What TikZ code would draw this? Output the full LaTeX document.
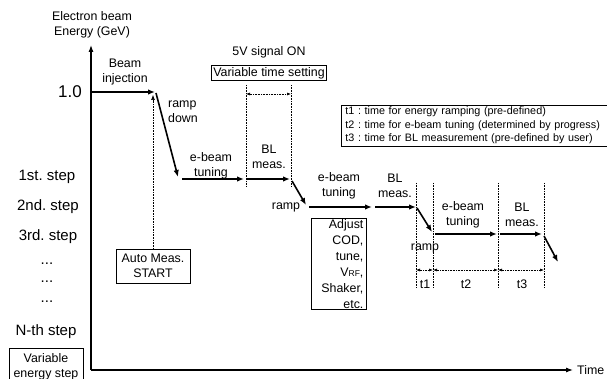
\documentclass[tikz,border=0pt]{standalone}
\usepackage{fontspec}
\setmainfont{Liberation Sans}
\usetikzlibrary{arrows.meta}
\frenchspacing

\begin{document}
\begin{tikzpicture}[
  x=1pt, y=-1pt,
  every node/.style={font=\fontsize{12.4}{15}\selectfont, inner sep=0pt, align=center},
  traj/.style={-{Latex[length=7pt,width=5.5pt]}, line width=1.6pt},
  axis/.style={-{Latex[length=7pt,width=5pt]}, line width=1.1pt},
  guide/.style={densely dotted, line width=0.6pt},
  span/.style={{Latex[length=4pt,width=3pt]}-{Latex[length=4pt,width=3pt]}, densely dotted, line width=0.6pt},
  tag/.style={draw, line width=0.8pt, inner sep=2pt},
  steplbl/.style={font=\fontsize{15}{18}\selectfont}
]
\useasboundingbox (0,0) rectangle (607,379);

% axes
\coordinate (origin) at (91,370);
\coordinate (ytip) at (91,45);
\coordinate (xtip) at (573,370);
\draw[axis] (origin) -- (ytip);
\draw[axis] (origin) -- (xtip);
\node[anchor=west] (timelbl) at (577,370) {Time};
\node (ylbl) at (92,25) {Electron beam\\Energy (GeV)};

% energy levels
\node[font=\fontsize{17}{20}\selectfont] (lvltop) at (70,92) {1.0};
\node[steplbl] (lvl1) at (47,177) {1st. step};
\node[steplbl] (lvl2) at (48,207) {2nd. step};
\node[steplbl] (lvl3) at (48,237) {3rd. step};
\node[steplbl] (dotsa) at (47,264) {...};
\node[steplbl] (dotsb) at (47,282) {...};
\node[steplbl] (dotsc) at (47,302) {...};
\node[steplbl] (lvln) at (46,332) {N-th step};
\node[tag, minimum width=74pt, minimum height=36pt, anchor=north] (varstep) at (46,348)
  {Variable\\energy step};

% energy path
\coordinate (inja) at (91,92);   \coordinate (injb) at (155,92);
\coordinate (rda) at (156,93);   \coordinate (rdb) at (178,177);
\coordinate (tua) at (182,179);  \coordinate (tub) at (244,179);
\coordinate (bla) at (247,179);  \coordinate (blb) at (290,179);
\coordinate (raa) at (292,181);  \coordinate (rab) at (306,205);
\coordinate (tuc) at (309,207);  \coordinate (tud) at (372,207);
\coordinate (blc) at (375,207);  \coordinate (bld) at (416,207);
\coordinate (rac) at (417,208);  \coordinate (rad) at (432,232);
\coordinate (tue) at (435,234);  \coordinate (tuf) at (497,234);
\coordinate (ble) at (500,234);  \coordinate (blf) at (542,234);
\coordinate (rae) at (544,236);  \coordinate (raf) at (558,262);
\draw[traj] (inja) -- (injb);
\draw[traj] (rda) -- (rdb);
\draw[traj] (tua) -- (tub);
\draw[traj] (bla) -- (blb);
\draw[traj] (raa) -- (rab);
\draw[traj] (tuc) -- (tud);
\draw[traj] (blc) -- (bld);
\draw[traj] (rac) -- (rad);
\draw[traj] (tue) -- (tuf);
\draw[traj] (ble) -- (blf);
\draw[traj] (rae) -- (raf);

% path labels
\node (injlbl) at (125,72) {Beam\\injection};
\node[align=left] (rdlbl) at (183,112) {ramp\\down};
\node (tulbl1) at (211,166) {e-beam\\tuning};
\node (bllbl1) at (269,157) {BL\\meas.};
\node (ralbl1) at (286,207) {ramp};
\node (tulbl2) at (339,186) {e-beam\\tuning};
\node (bllbl2) at (395,186) {BL\\meas.};
\node (ralbl2) at (425,248) {ramp};
\node (tulbl3) at (463,215) {e-beam\\tuning};
\node (bllbl3) at (522,215) {BL\\meas.};

% variable time window
\coordinate (wa) at (246,85);  \coordinate (wa2) at (246,186);
\coordinate (wb) at (291,85);  \coordinate (wb2) at (291,186);
\coordinate (wsa) at (246,94); \coordinate (wsb) at (291,94);
\draw[guide] (wa) -- (wa2);
\draw[guide] (wb) -- (wb2);
\draw[span] (wsa) -- (wsb);
\node (sig) at (269,52) {5V signal ON};
\node[tag, inner sep=1.5pt] (vartime) at (269,73) {Variable time setting};

% time intervals
\foreach \name/\xx in {ga/416, gb/433, gc/498, gd/544} {
  \coordinate (\name) at (\xx,183);
  \coordinate (\name2) at (\xx,288);
  \coordinate (\name3) at (\xx,270);
  \draw[guide] (\name) -- (\name2);
}
\draw[span] (ga3) -- (gb3);
\draw[span] (gb3) -- (gc3);
\draw[span] (gc3) -- (gd3);
\node (tone) at (425,284) {t1};
\node (ttwo) at (466,284) {t2};
\node (tthree) at (522,284) {t3};

% legend
\node[tag, anchor=west, align=left, inner xsep=4pt, inner ysep=2pt, text width=280pt,
  font=\fontsize{10.8}{13.5}\selectfont] (legend) at (341,125.5)
  {t1 : time for energy ramping (pre-defined)\\
   t2 : time for e-beam tuning (determined by progress)\\
   t3 : time for BL measurement (pre-defined by user)};

% boxes
\node[tag, minimum width=74pt, minimum height=34pt] (automeas) at (153,266) {Auto Meas.\\START};
\coordinate (startpt) at (153,95);
\draw[guide, -{Latex[length=5pt,width=4pt]}] (automeas.north) -- (startpt);
\node[tag, anchor=north west, align=right, text width=49pt, inner xsep=3pt, inner ysep=1pt,
  font=\fontsize{12.4}{16}\selectfont] (adjust) at (311,218)
  {Adjust\\COD,\\tune,\\V\raisebox{-0.5pt}{\fontsize{8.5}{9}\selectfont RF},\\Shaker,\\etc.};
\end{tikzpicture}
\end{document}
